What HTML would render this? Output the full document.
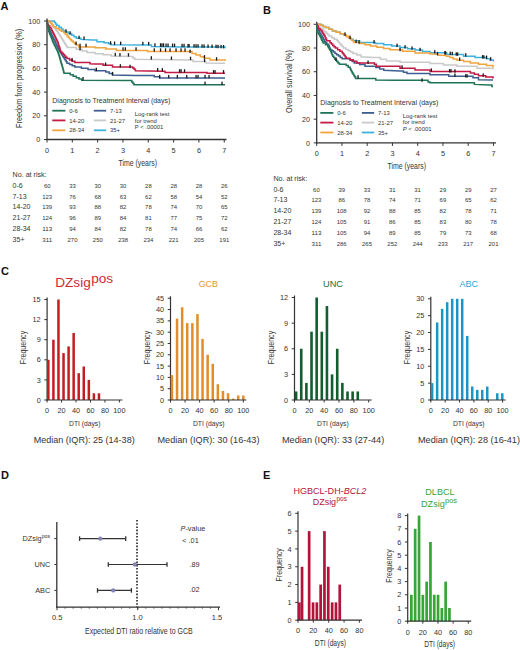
<!DOCTYPE html>
<html><head><meta charset="utf-8"><title>Figure</title>
<style>html,body{margin:0;padding:0;background:#fff;width:520px;height:650px;overflow:hidden;font-family:"Liberation Sans", sans-serif;}svg{display:block;}</style>
</head><body>
<svg width="520" height="650" viewBox="0 0 520 650" font-family='"Liberation Sans", sans-serif'>
<rect width="520" height="650" fill="#fff"/>
<text x="0.5" y="10.4" font-size="11" fill="#111" font-weight="bold">A</text>
<text x="263" y="13.9" font-size="11" fill="#111" font-weight="bold">B</text>
<text x="1" y="274.8" font-size="11" fill="#111" font-weight="bold">C</text>
<text x="1" y="479.2" font-size="11" fill="#111" font-weight="bold">D</text>
<text x="263" y="479" font-size="11" fill="#111" font-weight="bold">E</text>
<line x1="47" y1="18.5" x2="47" y2="140.0" stroke="#333" stroke-width="1.3"/>
<line x1="46.5" y1="139.5" x2="226.5" y2="139.5" stroke="#333" stroke-width="1.3"/>
<line x1="44" y1="139.5" x2="47" y2="139.5" stroke="#333" stroke-width="1"/>
<text x="40.2" y="142.1" font-size="7.2" fill="#333333" text-anchor="end">0</text>
<line x1="44" y1="115.8" x2="47" y2="115.8" stroke="#333" stroke-width="1"/>
<text x="40.2" y="118.39999999999999" font-size="7.2" fill="#333333" text-anchor="end">20</text>
<line x1="44" y1="92.1" x2="47" y2="92.1" stroke="#333" stroke-width="1"/>
<text x="40.2" y="94.69999999999999" font-size="7.2" fill="#333333" text-anchor="end">40</text>
<line x1="44" y1="68.39999999999999" x2="47" y2="68.39999999999999" stroke="#333" stroke-width="1"/>
<text x="40.2" y="70.99999999999999" font-size="7.2" fill="#333333" text-anchor="end">60</text>
<line x1="44" y1="44.69999999999999" x2="47" y2="44.69999999999999" stroke="#333" stroke-width="1"/>
<text x="40.2" y="47.29999999999999" font-size="7.2" fill="#333333" text-anchor="end">80</text>
<line x1="44" y1="21.0" x2="47" y2="21.0" stroke="#333" stroke-width="1"/>
<text x="40.2" y="23.6" font-size="7.2" fill="#333333" text-anchor="end">100</text>
<line x1="47.0" y1="139.5" x2="47.0" y2="142.5" stroke="#333" stroke-width="1"/>
<text x="47.0" y="152.9" font-size="7.3" fill="#333333" text-anchor="middle">0</text>
<line x1="72.32" y1="139.5" x2="72.32" y2="142.5" stroke="#333" stroke-width="1"/>
<text x="72.32" y="152.9" font-size="7.3" fill="#333333" text-anchor="middle">1</text>
<line x1="97.64" y1="139.5" x2="97.64" y2="142.5" stroke="#333" stroke-width="1"/>
<text x="97.64" y="152.9" font-size="7.3" fill="#333333" text-anchor="middle">2</text>
<line x1="122.96000000000001" y1="139.5" x2="122.96000000000001" y2="142.5" stroke="#333" stroke-width="1"/>
<text x="122.96000000000001" y="152.9" font-size="7.3" fill="#333333" text-anchor="middle">3</text>
<line x1="148.28" y1="139.5" x2="148.28" y2="142.5" stroke="#333" stroke-width="1"/>
<text x="148.28" y="152.9" font-size="7.3" fill="#333333" text-anchor="middle">4</text>
<line x1="173.6" y1="139.5" x2="173.6" y2="142.5" stroke="#333" stroke-width="1"/>
<text x="173.6" y="152.9" font-size="7.3" fill="#333333" text-anchor="middle">5</text>
<line x1="198.92000000000002" y1="139.5" x2="198.92000000000002" y2="142.5" stroke="#333" stroke-width="1"/>
<text x="198.92000000000002" y="152.9" font-size="7.3" fill="#333333" text-anchor="middle">6</text>
<line x1="224.24" y1="139.5" x2="224.24" y2="142.5" stroke="#333" stroke-width="1"/>
<text x="224.24" y="152.9" font-size="7.3" fill="#333333" text-anchor="middle">7</text>
<text x="118.5" y="166" font-size="9.5" fill="#333333" textLength="38.5" lengthAdjust="spacingAndGlyphs">Time (years)</text>
<text transform="translate(22.3,78.4) rotate(-90)" x="0" y="0" font-size="9.3" fill="#333333" text-anchor="middle" textLength="99" lengthAdjust="spacingAndGlyphs">Freedom from progression (%)</text>
<line x1="316.7" y1="21.8" x2="316.7" y2="143.4" stroke="#333" stroke-width="1.3"/>
<line x1="316.2" y1="142.9" x2="496" y2="142.9" stroke="#333" stroke-width="1.3"/>
<line x1="313.7" y1="142.9" x2="316.7" y2="142.9" stroke="#333" stroke-width="1"/>
<text x="309.9" y="145.5" font-size="7.2" fill="#333333" text-anchor="end">0</text>
<line x1="313.7" y1="119.18" x2="316.7" y2="119.18" stroke="#333" stroke-width="1"/>
<text x="309.9" y="121.78" font-size="7.2" fill="#333333" text-anchor="end">20</text>
<line x1="313.7" y1="95.46000000000001" x2="316.7" y2="95.46000000000001" stroke="#333" stroke-width="1"/>
<text x="309.9" y="98.06" font-size="7.2" fill="#333333" text-anchor="end">40</text>
<line x1="313.7" y1="71.74" x2="316.7" y2="71.74" stroke="#333" stroke-width="1"/>
<text x="309.9" y="74.33999999999999" font-size="7.2" fill="#333333" text-anchor="end">60</text>
<line x1="313.7" y1="48.019999999999996" x2="316.7" y2="48.019999999999996" stroke="#333" stroke-width="1"/>
<text x="309.9" y="50.62" font-size="7.2" fill="#333333" text-anchor="end">80</text>
<line x1="313.7" y1="24.299999999999983" x2="316.7" y2="24.299999999999983" stroke="#333" stroke-width="1"/>
<text x="309.9" y="26.899999999999984" font-size="7.2" fill="#333333" text-anchor="end">100</text>
<line x1="316.7" y1="142.9" x2="316.7" y2="145.9" stroke="#333" stroke-width="1"/>
<text x="316.7" y="155.9" font-size="7.3" fill="#333333" text-anchor="middle">0</text>
<line x1="341.95" y1="142.9" x2="341.95" y2="145.9" stroke="#333" stroke-width="1"/>
<text x="341.95" y="155.9" font-size="7.3" fill="#333333" text-anchor="middle">1</text>
<line x1="367.2" y1="142.9" x2="367.2" y2="145.9" stroke="#333" stroke-width="1"/>
<text x="367.2" y="155.9" font-size="7.3" fill="#333333" text-anchor="middle">2</text>
<line x1="392.45" y1="142.9" x2="392.45" y2="145.9" stroke="#333" stroke-width="1"/>
<text x="392.45" y="155.9" font-size="7.3" fill="#333333" text-anchor="middle">3</text>
<line x1="417.7" y1="142.9" x2="417.7" y2="145.9" stroke="#333" stroke-width="1"/>
<text x="417.7" y="155.9" font-size="7.3" fill="#333333" text-anchor="middle">4</text>
<line x1="442.95" y1="142.9" x2="442.95" y2="145.9" stroke="#333" stroke-width="1"/>
<text x="442.95" y="155.9" font-size="7.3" fill="#333333" text-anchor="middle">5</text>
<line x1="468.2" y1="142.9" x2="468.2" y2="145.9" stroke="#333" stroke-width="1"/>
<text x="468.2" y="155.9" font-size="7.3" fill="#333333" text-anchor="middle">6</text>
<line x1="493.45" y1="142.9" x2="493.45" y2="145.9" stroke="#333" stroke-width="1"/>
<text x="493.45" y="155.9" font-size="7.3" fill="#333333" text-anchor="middle">7</text>
<text x="387.5" y="169" font-size="9.5" fill="#333333" textLength="38.5" lengthAdjust="spacingAndGlyphs">Time (years)</text>
<text transform="translate(291.8,81.6) rotate(-90)" x="0" y="0" font-size="9.3" fill="#333333" text-anchor="middle" textLength="63" lengthAdjust="spacingAndGlyphs">Overall survival (%)</text>
<polyline points="47.0,21.0 49.0,21.0 49.0,22.1 50.9,22.1 50.9,23.2 51.9,23.2 51.9,24.6 52.8,24.6 52.8,25.9 53.8,25.9 53.8,27.2 54.8,27.2 54.8,28.6 55.7,28.6 55.7,29.9 56.7,29.9 56.7,31.3 57.6,31.3 57.6,32.7 58.5,32.7 58.5,34.1 59.5,34.1 59.5,35.4 60.4,35.4 60.4,36.8 61.3,36.8 61.3,38.2 62.2,38.2 62.2,39.7 63.0,39.7 63.0,41.1 63.9,41.1 63.9,42.5 64.8,42.5 64.8,44.0 65.9,44.0 65.9,45.7 67.0,45.7 67.0,47.4 76.3,47.4 76.3,49.2 82.0,49.2 82.0,50.9 87.0,50.9 87.0,52.5 95.0,52.5 95.0,53.8 103.1,53.8 103.1,54.8 111.2,54.8 111.2,55.9 131.3,56.5 133.0,56.5 133.0,57.9 134.7,57.9 134.7,59.2 191.0,59.9 193.0,59.9 193.0,61.6 204.0,61.6 206.0,61.6 206.0,63.0 225.0,63.3" fill="none" stroke="#c9c9c9" stroke-width="1.5" stroke-linejoin="miter"/>
<polyline points="47.0,21.0 54.4,21.0 54.4,22.3 55.5,22.3 55.5,23.9 56.7,23.9 56.7,25.5 59.0,25.5 59.0,27.2 61.3,27.2 61.3,29.0 63.0,29.0 63.0,30.4 64.8,30.4 64.8,31.9 68.2,31.9 68.2,33.6 71.7,33.6 71.7,35.3 74.0,35.3 74.0,36.8 76.3,36.8 76.3,38.2 80.9,38.2 80.9,39.4 92.4,40.0 97.0,40.0 97.0,41.7 104.0,41.7 104.0,42.8 108.5,42.8 108.5,43.7 111.2,43.7 111.2,44.7 148.8,45.1 151.5,45.1 151.5,46.4 180.0,46.9 225.0,46.9 225.0,48.2" fill="none" stroke="#3cb2dd" stroke-width="1.5" stroke-linejoin="miter"/>
<polyline points="47.0,21.0 49.8,21.0 49.8,22.0 50.9,22.0 50.9,23.6 52.1,23.6 52.1,25.1 53.2,25.1 53.2,26.7 56.1,26.7 56.1,28.4 59.0,28.4 59.0,30.1 61.3,30.1 61.3,31.3 63.6,31.3 63.6,32.5 65.3,32.5 65.3,34.2 67.0,34.2 67.0,35.9 68.2,35.9 68.2,37.2 69.3,37.2 69.3,38.5 70.5,38.5 70.5,39.8 71.7,39.8 71.7,41.1 73.2,41.1 73.2,42.4 74.8,42.4 74.8,43.8 76.3,43.8 76.3,45.1 78.6,45.1 78.6,46.9 90.1,46.9 95.0,46.9 95.0,47.8 105.8,47.8 105.8,49.1 116.5,49.1 116.5,50.5 144.8,50.5 147.5,50.5 147.5,51.5 186.2,51.5 192.0,51.5 192.0,53.5 196.1,53.5 196.1,55.1 200.3,55.1 200.3,56.7 204.4,56.7 204.4,58.3 210.0,58.3 210.0,60.0 225.0,60.0 225.0,61.0" fill="none" stroke="#f1a43c" stroke-width="1.5" stroke-linejoin="miter"/>
<polyline points="47.0,21.0 47.2,21.0 47.2,22.5 47.3,22.5 47.3,24.0 47.5,24.0 47.5,25.5 48.1,25.5 48.1,26.9 48.7,26.9 48.7,28.4 49.3,28.4 49.3,29.8 49.9,29.8 49.9,31.2 50.5,31.2 50.5,32.6 51.1,32.6 51.1,34.1 51.7,34.1 51.7,35.5 52.4,35.5 52.4,36.9 53.1,36.9 53.1,38.3 53.8,38.3 53.8,39.7 54.5,39.7 54.5,41.1 55.2,41.1 55.2,42.5 55.9,42.5 55.9,44.0 56.6,44.0 56.6,45.4 57.3,45.4 57.3,46.8 58.0,46.8 58.0,48.2 58.7,48.2 58.7,49.6 59.4,49.6 59.4,51.0 60.2,51.0 60.2,52.4 61.1,52.4 61.1,53.7 61.9,53.7 61.9,55.1 62.8,55.1 62.8,56.4 63.6,56.4 63.6,57.8 64.5,57.8 64.5,59.1 65.3,59.1 65.3,60.5 66.2,60.5 66.2,61.8 67.0,61.8 67.0,63.2 69.6,63.2 69.6,64.5 72.2,64.5 72.2,65.7 74.8,65.7 74.8,67.0 81.4,67.0 81.4,68.2 88.0,68.2 88.0,69.5 95.0,69.5 95.0,70.7 105.8,70.7 105.8,72.0 109.2,72.0 109.2,73.5 112.5,73.5 112.5,75.1 135.4,75.4 154.2,75.4 154.2,76.7 159.6,76.7 159.6,78.1 225.0,78.1" fill="none" stroke="#3d5f8f" stroke-width="1.5" stroke-linejoin="miter"/>
<polyline points="47.0,21.0 47.2,21.0 47.2,22.7 47.5,22.7 47.5,24.4 48.6,24.4 48.6,25.9 49.8,25.9 49.8,27.5 50.9,27.5 50.9,29.0 51.6,29.0 51.6,30.4 52.3,30.4 52.3,31.8 53.0,31.8 53.0,33.1 53.7,33.1 53.7,34.5 54.4,34.5 54.4,35.9 55.1,35.9 55.1,37.3 55.8,37.3 55.8,38.7 56.4,38.7 56.4,40.0 57.1,40.0 57.1,41.4 57.8,41.4 57.8,42.8 58.2,42.8 58.2,44.1 58.6,44.1 58.6,45.4 59.0,45.4 59.0,46.7 59.5,46.7 59.5,48.1 59.9,48.1 59.9,49.4 60.3,49.4 60.3,50.7 60.7,50.7 60.7,52.0 62.0,52.0 62.0,53.3 63.2,53.3 63.2,54.6 64.5,54.6 64.5,56.0 65.7,56.0 65.7,57.3 67.0,57.3 67.0,58.6 69.6,58.6 69.6,59.9 72.2,59.9 72.2,61.2 74.8,61.2 74.8,62.5 90.0,62.5 90.0,63.8 95.0,63.9 103.1,63.9 103.1,65.3 112.5,65.3 112.5,67.0 132.7,67.0 132.7,68.0 134.1,68.0 134.1,69.3 135.4,69.3 135.4,70.7 163.0,71.3 165.0,71.3 165.0,72.4 205.0,72.4 207.0,72.4 207.0,73.3 225.0,73.3" fill="none" stroke="#c41a45" stroke-width="1.5" stroke-linejoin="miter"/>
<polyline points="47.0,21.0 47.2,21.0 47.2,22.5 47.5,22.5 47.5,23.9 47.7,23.9 47.7,25.4 47.9,25.4 47.9,26.9 48.1,26.9 48.1,28.4 48.4,28.4 48.4,29.8 48.6,29.8 48.6,31.3 49.2,31.3 49.2,32.7 49.8,32.7 49.8,34.2 50.3,34.2 50.3,35.6 50.9,35.6 50.9,37.0 51.5,37.0 51.5,38.5 52.1,38.5 52.1,39.9 52.6,39.9 52.6,41.4 53.2,41.4 53.2,42.8 53.9,42.8 53.9,44.1 54.5,44.1 54.5,45.4 55.2,45.4 55.2,46.7 55.8,46.7 55.8,48.1 56.5,48.1 56.5,49.4 57.1,49.4 57.1,50.7 57.8,50.7 57.8,52.0 58.2,52.0 58.2,53.2 58.6,53.2 58.6,54.5 59.0,54.5 59.0,55.8 59.4,55.8 59.4,57.0 59.8,57.0 59.8,58.4 60.2,58.4 60.2,59.7 60.5,59.7 60.5,61.0 60.9,61.0 60.9,62.4 61.3,62.4 61.3,63.8 61.7,63.8 61.7,65.1 62.1,65.1 62.1,66.5 62.5,66.5 62.5,67.8 62.9,67.8 62.9,69.2 63.2,69.2 63.2,70.5 63.6,70.5 63.6,71.9 64.0,71.9 64.0,73.2 70.2,73.2 70.2,74.8 73.2,74.8 73.2,76.3 76.3,76.3 76.3,77.8 79.0,77.8 79.0,79.0 81.7,79.0 81.7,80.2 130.7,80.5 131.8,80.5 131.8,81.9 132.9,81.9 132.9,83.4 134.0,83.4 134.0,84.8 225.0,84.8" fill="none" stroke="#1f7556" stroke-width="1.5" stroke-linejoin="miter"/>
<polyline points="316.7,24.3 317.9,24.3 317.9,25.6 319.0,25.6 319.0,27.0 321.0,27.0 321.0,28.6 323.0,28.6 323.0,30.3 324.5,30.3 324.5,31.8 326.0,31.8 326.0,33.2 327.5,33.2 327.5,34.6 329.0,34.6 329.0,36.1 331.7,36.1 331.7,37.7 334.3,37.7 334.3,39.2 337.0,39.2 337.0,40.8 338.3,40.8 338.3,42.3 339.6,42.3 339.6,43.7 340.9,43.7 340.9,45.2 342.2,45.2 342.2,46.6 343.5,46.6 343.5,48.1 345.9,48.1 345.9,49.5 348.2,49.5 348.2,50.8 350.5,50.8 350.5,52.1 352.9,52.1 352.9,53.5 356.9,53.5 356.9,55.1 361.0,55.1 361.0,56.8 374.4,57.5 380.4,57.5 380.4,59.2 386.5,59.2 386.5,60.9 400.0,60.9 400.0,62.2 430.0,62.2 430.0,63.6 443.4,63.6 443.4,64.9 456.9,64.9 456.9,66.2 477.1,66.2 477.1,68.3 493.0,68.3 493.0,69.3" fill="none" stroke="#c9c9c9" stroke-width="1.5" stroke-linejoin="miter"/>
<polyline points="316.7,24.3 320.9,24.3 320.9,25.2 323.2,25.2 323.2,26.4 325.5,26.4 325.5,27.5 329.0,27.5 329.0,29.2 332.5,29.2 332.5,31.0 336.3,31.0 336.3,32.3 340.2,32.3 340.2,33.7 344.0,33.7 344.0,35.0 346.3,35.0 346.3,36.5 348.6,36.5 348.6,37.9 350.9,37.9 350.9,39.3 353.2,39.3 353.2,40.8 359.6,40.8 359.6,42.4 375.5,42.4 375.5,43.4 383.7,43.4 383.7,44.7 391.8,44.7 391.8,46.1 400.0,46.1 400.0,47.4 407.5,47.4 407.5,48.8 415.0,48.8 415.0,50.1 422.5,50.1 422.5,51.4 430.0,51.4 430.0,52.8 446.8,52.8 446.8,54.5 463.6,54.5 463.6,56.2 475.1,56.2 475.1,57.5 486.5,57.5 486.5,58.8 489.9,58.8 489.9,60.1 493.3,60.1 493.3,61.5" fill="none" stroke="#3cb2dd" stroke-width="1.5" stroke-linejoin="miter"/>
<polyline points="316.7,24.3 320.9,24.3 320.9,25.2 323.2,25.2 323.2,26.4 325.5,26.4 325.5,27.5 329.0,27.5 329.0,29.2 332.5,29.2 332.5,31.0 336.3,31.0 336.3,32.3 340.2,32.3 340.2,33.7 344.0,33.7 344.0,35.0 346.3,35.0 346.3,36.5 348.6,36.5 348.6,37.9 350.1,37.9 350.1,39.1 351.7,39.1 351.7,40.3 353.2,40.3 353.2,41.5 354.2,41.5 354.2,42.4 359.6,42.4 359.6,43.6 365.0,43.6 365.0,44.8 370.4,44.8 370.4,46.0 376.9,46.0 376.9,47.2 383.5,47.2 383.5,48.5 390.0,48.5 390.0,49.7 402.5,49.7 402.5,51.3 415.0,51.3 415.0,52.9 430.0,52.9 430.0,54.1 438.1,54.1 438.1,55.2 446.2,55.2 446.2,56.2 449.8,56.2 449.8,57.5 453.3,57.5 453.3,58.9 456.9,58.9 456.9,60.2 463.6,60.2 463.6,61.5 470.4,61.5 470.4,62.9 478.4,62.9 478.4,64.2 486.5,64.2 486.5,65.6 493.0,65.6 493.0,67.6" fill="none" stroke="#f1a43c" stroke-width="1.5" stroke-linejoin="miter"/>
<polyline points="316.7,24.3 317.0,24.3 317.0,25.9 317.2,25.9 317.2,27.6 317.5,27.6 317.5,29.2 318.4,29.2 318.4,30.6 319.2,30.6 319.2,32.1 320.0,32.1 320.0,33.5 320.9,33.5 320.9,35.0 321.8,35.0 321.8,36.6 322.6,36.6 322.6,38.1 323.5,38.1 323.5,39.7 324.4,39.7 324.4,41.3 325.5,41.3 325.5,42.6 326.7,42.6 326.7,43.9 327.9,43.9 327.9,45.2 329.0,45.2 329.0,46.5 329.5,46.5 329.5,48.0 330.0,48.0 330.0,49.4 331.7,49.4 331.7,50.8 333.4,50.8 333.4,52.1 335.0,52.1 335.0,53.4 336.7,53.4 336.7,54.8 338.5,54.8 338.5,56.1 340.3,56.1 340.3,57.5 342.1,57.5 342.1,58.8 350.2,58.8 350.2,60.2 352.2,60.2 352.2,61.5 354.2,61.5 354.2,62.9 359.6,62.9 359.6,64.5 365.0,64.5 365.0,66.2 375.8,66.2 375.8,67.6 379.8,67.6 379.8,68.9 383.8,68.9 383.8,70.3 400.0,71.0 403.5,71.0 403.5,72.2 407.0,72.2 407.0,73.4 430.0,73.4 430.0,74.7 448.8,74.7 448.8,76.3 473.0,76.3 473.0,77.7 478.5,77.7 478.5,79.7 493.0,80.1" fill="none" stroke="#3d5f8f" stroke-width="1.5" stroke-linejoin="miter"/>
<polyline points="316.7,24.3 317.3,24.3 317.3,25.8 318.0,25.8 318.0,27.2 318.6,27.2 318.6,28.7 320.1,28.7 320.1,29.9 321.5,29.9 321.5,31.0 322.2,31.0 322.2,32.3 322.9,32.3 322.9,33.5 323.7,33.5 323.7,34.8 324.4,34.8 324.4,36.1 325.2,36.1 325.2,37.7 325.9,37.7 325.9,39.2 326.7,39.2 326.7,40.8 330.0,40.8 330.0,42.7 331.4,42.7 331.4,44.1 332.7,44.1 332.7,45.4 334.0,45.4 334.0,46.8 335.4,46.8 335.4,48.1 337.6,48.1 337.6,49.7 339.9,49.7 339.9,51.2 342.1,51.2 342.1,52.8 343.1,52.8 343.1,54.1 344.1,54.1 344.1,55.5 345.2,55.5 345.2,56.9 346.2,56.9 346.2,58.2 349.8,58.2 349.8,59.8 353.3,59.8 353.3,61.3 356.9,61.3 356.9,62.9 374.4,62.9 374.4,64.2 376.4,64.2 376.4,66.2 400.0,66.2 400.0,68.3 415.0,68.3 415.0,69.9 430.0,69.9 430.0,71.6 470.4,71.6 470.4,73.0 474.4,73.0 474.4,74.3 478.5,74.3 478.5,75.7 485.8,75.7 485.8,77.1 493.0,77.1 493.0,78.4" fill="none" stroke="#c41a45" stroke-width="1.5" stroke-linejoin="miter"/>
<polyline points="316.7,24.3 316.7,24.3 316.7,25.7 316.8,25.7 316.8,27.2 316.8,27.2 316.8,28.6 316.9,28.6 316.9,30.1 316.9,30.1 316.9,31.5 317.9,31.5 317.9,33.0 318.8,33.0 318.8,34.6 319.8,34.6 319.8,36.1 320.5,36.1 320.5,37.5 321.2,37.5 321.2,38.9 321.8,38.9 321.8,40.3 322.5,40.3 322.5,41.7 323.2,41.7 323.2,43.1 325.5,43.1 325.5,44.8 327.8,44.8 327.8,46.5 328.5,46.5 328.5,47.7 329.3,47.7 329.3,48.9 330.0,48.9 330.0,50.1 330.7,50.1 330.7,51.6 331.4,51.6 331.4,53.2 332.0,53.2 332.0,54.7 332.7,54.7 332.7,56.2 333.7,56.2 333.7,57.5 334.7,57.5 334.7,58.9 335.7,58.9 335.7,60.2 336.7,60.2 336.7,61.5 338.0,61.5 338.0,62.9 339.4,62.9 339.4,64.2 346.2,64.2 346.2,65.6 348.2,65.6 348.2,67.2 350.2,67.2 350.2,68.9 350.9,68.9 350.9,70.3 351.5,70.3 351.5,71.6 352.2,71.6 352.2,73.0 353.1,73.0 353.1,74.3 353.9,74.3 353.9,75.7 354.8,75.7 354.8,77.1 355.6,77.1 355.6,78.4 374.4,78.4 375.8,78.4 375.8,80.0 394.0,80.3 428.0,80.3 428.0,81.9 430.0,81.9 430.0,82.8 473.0,82.8 474.4,82.8 474.4,84.4 489.2,85.1 491.9,85.1 491.9,86.4 493.0,86.4" fill="none" stroke="#1f7556" stroke-width="1.5" stroke-linejoin="miter"/>
<rect x="65.4" y="29.3" width="1.3" height="3.4" fill="#1a1a1a"/>
<rect x="69.4" y="31.3" width="1.3" height="3.4" fill="#1a1a1a"/>
<rect x="78.4" y="35.7" width="1.3" height="3.4" fill="#1a1a1a"/>
<rect x="83.4" y="36.4" width="1.3" height="3.4" fill="#1a1a1a"/>
<rect x="109.9" y="41.2" width="1.3" height="3.4" fill="#1a1a1a"/>
<rect x="113.9" y="41.5" width="1.3" height="3.4" fill="#1a1a1a"/>
<rect x="120.0" y="41.6" width="1.3" height="3.4" fill="#1a1a1a"/>
<rect x="142.2" y="41.8" width="1.3" height="3.4" fill="#1a1a1a"/>
<rect x="148.0" y="41.9" width="1.3" height="3.4" fill="#1a1a1a"/>
<rect x="154.3" y="43.3" width="1.3" height="3.4" fill="#1a1a1a"/>
<rect x="159.9" y="43.4" width="1.3" height="3.4" fill="#1a1a1a"/>
<rect x="162.4" y="43.4" width="1.3" height="3.4" fill="#1a1a1a"/>
<rect x="160.4" y="43.4" width="1.3" height="3.4" fill="#1a1a1a"/>
<rect x="162.9" y="43.4" width="1.3" height="3.4" fill="#1a1a1a"/>
<rect x="165.4" y="43.5" width="1.3" height="3.4" fill="#1a1a1a"/>
<rect x="167.4" y="43.5" width="1.3" height="3.4" fill="#1a1a1a"/>
<rect x="171.9" y="43.6" width="1.3" height="3.4" fill="#1a1a1a"/>
<rect x="173.9" y="43.6" width="1.3" height="3.4" fill="#1a1a1a"/>
<rect x="181.4" y="43.8" width="1.3" height="3.4" fill="#1a1a1a"/>
<rect x="183.4" y="43.8" width="1.3" height="3.4" fill="#1a1a1a"/>
<rect x="187.4" y="43.9" width="1.3" height="3.4" fill="#1a1a1a"/>
<rect x="188.4" y="44.0" width="1.3" height="3.4" fill="#1a1a1a"/>
<rect x="193.4" y="44.1" width="1.3" height="3.4" fill="#1a1a1a"/>
<rect x="195.4" y="44.2" width="1.3" height="3.4" fill="#1a1a1a"/>
<rect x="197.4" y="44.2" width="1.3" height="3.4" fill="#1a1a1a"/>
<rect x="201.4" y="44.3" width="1.3" height="3.4" fill="#1a1a1a"/>
<rect x="203.4" y="44.4" width="1.3" height="3.4" fill="#1a1a1a"/>
<rect x="207.4" y="44.5" width="1.3" height="3.4" fill="#1a1a1a"/>
<rect x="211.4" y="44.6" width="1.3" height="3.4" fill="#1a1a1a"/>
<rect x="215.4" y="44.7" width="1.3" height="3.4" fill="#1a1a1a"/>
<rect x="217.4" y="44.8" width="1.3" height="3.4" fill="#1a1a1a"/>
<rect x="220.4" y="44.9" width="1.3" height="3.4" fill="#1a1a1a"/>
<rect x="222.9" y="45.0" width="1.3" height="3.4" fill="#1a1a1a"/>
<rect x="75.4" y="41.6" width="1.3" height="3.4" fill="#1a1a1a"/>
<rect x="79.4" y="43.7" width="1.3" height="3.4" fill="#1a1a1a"/>
<rect x="85.4" y="43.7" width="1.3" height="3.4" fill="#1a1a1a"/>
<rect x="122.4" y="47.3" width="1.3" height="3.4" fill="#1a1a1a"/>
<rect x="124.7" y="47.3" width="1.3" height="3.4" fill="#1a1a1a"/>
<rect x="135.4" y="47.3" width="1.3" height="3.4" fill="#1a1a1a"/>
<rect x="153.6" y="48.3" width="1.3" height="3.4" fill="#1a1a1a"/>
<rect x="159.9" y="48.3" width="1.3" height="3.4" fill="#1a1a1a"/>
<rect x="164.9" y="48.3" width="1.3" height="3.4" fill="#1a1a1a"/>
<rect x="169.4" y="48.3" width="1.3" height="3.4" fill="#1a1a1a"/>
<rect x="175.4" y="48.3" width="1.3" height="3.4" fill="#1a1a1a"/>
<rect x="180.4" y="48.3" width="1.3" height="3.4" fill="#1a1a1a"/>
<rect x="184.4" y="48.3" width="1.3" height="3.4" fill="#1a1a1a"/>
<rect x="189.4" y="49.6" width="1.3" height="3.4" fill="#1a1a1a"/>
<rect x="203.8" y="55.1" width="1.3" height="3.4" fill="#1a1a1a"/>
<rect x="215.9" y="57.2" width="1.3" height="3.4" fill="#1a1a1a"/>
<rect x="79.4" y="47.1" width="1.3" height="3.4" fill="#1a1a1a"/>
<rect x="114.6" y="52.8" width="1.3" height="3.4" fill="#1a1a1a"/>
<rect x="119.3" y="53.0" width="1.3" height="3.4" fill="#1a1a1a"/>
<rect x="127.8" y="53.2" width="1.3" height="3.4" fill="#1a1a1a"/>
<rect x="150.7" y="56.2" width="1.3" height="3.4" fill="#1a1a1a"/>
<rect x="170.8" y="56.5" width="1.3" height="3.4" fill="#1a1a1a"/>
<rect x="189.9" y="56.7" width="1.3" height="3.4" fill="#1a1a1a"/>
<rect x="203.9" y="58.8" width="1.3" height="3.4" fill="#1a1a1a"/>
<rect x="71.4" y="57.9" width="1.3" height="3.4" fill="#1a1a1a"/>
<rect x="104.9" y="62.5" width="1.3" height="3.4" fill="#1a1a1a"/>
<rect x="119.7" y="64.2" width="1.3" height="3.4" fill="#1a1a1a"/>
<rect x="129.4" y="64.7" width="1.3" height="3.4" fill="#1a1a1a"/>
<rect x="157.0" y="68.0" width="1.3" height="3.4" fill="#1a1a1a"/>
<rect x="161.7" y="68.1" width="1.3" height="3.4" fill="#1a1a1a"/>
<rect x="178.9" y="69.2" width="1.3" height="3.4" fill="#1a1a1a"/>
<rect x="180.4" y="69.2" width="1.3" height="3.4" fill="#1a1a1a"/>
<rect x="183.9" y="69.2" width="1.3" height="3.4" fill="#1a1a1a"/>
<rect x="212.9" y="70.1" width="1.3" height="3.4" fill="#1a1a1a"/>
<rect x="214.4" y="70.1" width="1.3" height="3.4" fill="#1a1a1a"/>
<rect x="222.9" y="70.1" width="1.3" height="3.4" fill="#1a1a1a"/>
<rect x="95.7" y="67.7" width="1.3" height="3.4" fill="#1a1a1a"/>
<rect x="111.9" y="71.9" width="1.3" height="3.4" fill="#1a1a1a"/>
<rect x="159.0" y="74.9" width="1.3" height="3.4" fill="#1a1a1a"/>
<rect x="168.1" y="74.9" width="1.3" height="3.4" fill="#1a1a1a"/>
<rect x="176.7" y="74.9" width="1.3" height="3.4" fill="#1a1a1a"/>
<rect x="186.1" y="74.9" width="1.3" height="3.4" fill="#1a1a1a"/>
<rect x="195.4" y="74.9" width="1.3" height="3.4" fill="#1a1a1a"/>
<rect x="197.4" y="74.9" width="1.3" height="3.4" fill="#1a1a1a"/>
<rect x="204.4" y="74.9" width="1.3" height="3.4" fill="#1a1a1a"/>
<rect x="208.4" y="74.9" width="1.3" height="3.4" fill="#1a1a1a"/>
<rect x="82.4" y="77.0" width="1.3" height="3.4" fill="#1a1a1a"/>
<rect x="204.4" y="81.6" width="1.3" height="3.4" fill="#1a1a1a"/>
<rect x="221.4" y="81.6" width="1.3" height="3.4" fill="#1a1a1a"/>
<rect x="344.4" y="32.4" width="1.3" height="3.4" fill="#1a1a1a"/>
<rect x="349.4" y="35.6" width="1.3" height="3.4" fill="#1a1a1a"/>
<rect x="373.4" y="40.1" width="1.3" height="3.4" fill="#1a1a1a"/>
<rect x="396.4" y="43.7" width="1.3" height="3.4" fill="#1a1a1a"/>
<rect x="404.4" y="45.1" width="1.3" height="3.4" fill="#1a1a1a"/>
<rect x="411.4" y="46.4" width="1.3" height="3.4" fill="#1a1a1a"/>
<rect x="419.4" y="47.8" width="1.3" height="3.4" fill="#1a1a1a"/>
<rect x="434.1" y="50.1" width="1.3" height="3.4" fill="#1a1a1a"/>
<rect x="444.2" y="51.1" width="1.3" height="3.4" fill="#1a1a1a"/>
<rect x="444.9" y="51.2" width="1.3" height="3.4" fill="#1a1a1a"/>
<rect x="449.6" y="51.6" width="1.3" height="3.4" fill="#1a1a1a"/>
<rect x="451.6" y="51.8" width="1.3" height="3.4" fill="#1a1a1a"/>
<rect x="455.6" y="52.3" width="1.3" height="3.4" fill="#1a1a1a"/>
<rect x="457.0" y="52.4" width="1.3" height="3.4" fill="#1a1a1a"/>
<rect x="465.1" y="53.2" width="1.3" height="3.4" fill="#1a1a1a"/>
<rect x="481.9" y="55.1" width="1.3" height="3.4" fill="#1a1a1a"/>
<rect x="483.2" y="55.3" width="1.3" height="3.4" fill="#1a1a1a"/>
<rect x="485.9" y="55.6" width="1.3" height="3.4" fill="#1a1a1a"/>
<rect x="490.0" y="57.2" width="1.3" height="3.4" fill="#1a1a1a"/>
<rect x="355.4" y="39.6" width="1.3" height="3.4" fill="#1a1a1a"/>
<rect x="358.4" y="40.3" width="1.3" height="3.4" fill="#1a1a1a"/>
<rect x="399.4" y="47.8" width="1.3" height="3.4" fill="#1a1a1a"/>
<rect x="436.8" y="51.9" width="1.3" height="3.4" fill="#1a1a1a"/>
<rect x="459.0" y="57.5" width="1.3" height="3.4" fill="#1a1a1a"/>
<rect x="367.4" y="60.5" width="1.3" height="3.4" fill="#1a1a1a"/>
<rect x="401.4" y="65.3" width="1.3" height="3.4" fill="#1a1a1a"/>
<rect x="430.7" y="68.4" width="1.3" height="3.4" fill="#1a1a1a"/>
<rect x="448.9" y="69.1" width="1.3" height="3.4" fill="#1a1a1a"/>
<rect x="450.3" y="69.1" width="1.3" height="3.4" fill="#1a1a1a"/>
<rect x="454.3" y="69.3" width="1.3" height="3.4" fill="#1a1a1a"/>
<rect x="482.6" y="73.4" width="1.3" height="3.4" fill="#1a1a1a"/>
<rect x="454.3" y="73.5" width="1.3" height="3.4" fill="#1a1a1a"/>
<rect x="465.1" y="74.1" width="1.3" height="3.4" fill="#1a1a1a"/>
<rect x="466.4" y="74.2" width="1.3" height="3.4" fill="#1a1a1a"/>
<rect x="335.4" y="57.4" width="1.3" height="3.4" fill="#1a1a1a"/>
<rect x="357.4" y="75.2" width="1.3" height="3.4" fill="#1a1a1a"/>
<rect x="421.4" y="78.4" width="1.3" height="3.4" fill="#1a1a1a"/>
<text x="52.3" y="103" font-size="6.8" fill="#333333" textLength="118" lengthAdjust="spacingAndGlyphs">Diagnosis to Treatment Interval (days)</text>
<line x1="52.3" y1="110.7" x2="65.39999999999999" y2="110.7" stroke="#1f7556" stroke-width="1.8"/>
<text x="69.19999999999999" y="112.8" font-size="5.9" fill="#333333">0-6</text>
<line x1="93.8" y1="110.7" x2="106.19999999999999" y2="110.7" stroke="#3d5f8f" stroke-width="1.8"/>
<text x="110.0" y="112.8" font-size="5.9" fill="#333333">7-13</text>
<line x1="52.3" y1="120.4" x2="65.39999999999999" y2="120.4" stroke="#c41a45" stroke-width="1.8"/>
<text x="69.19999999999999" y="122.5" font-size="5.9" fill="#333333">14-20</text>
<line x1="93.8" y1="120.4" x2="106.19999999999999" y2="120.4" stroke="#c9c9c9" stroke-width="1.8"/>
<text x="110.0" y="122.5" font-size="5.9" fill="#333333">21-27</text>
<line x1="52.3" y1="130.3" x2="65.39999999999999" y2="130.3" stroke="#f1a43c" stroke-width="1.8"/>
<text x="69.19999999999999" y="132.4" font-size="5.9" fill="#333333">28-34</text>
<line x1="93.8" y1="130.3" x2="106.19999999999999" y2="130.3" stroke="#3cb2dd" stroke-width="1.8"/>
<text x="110.0" y="132.4" font-size="5.9" fill="#333333">35+</text>
<text x="134.8" y="115.7" font-size="5.9" fill="#333333" textLength="34.5" lengthAdjust="spacingAndGlyphs">Log-rank test</text>
<text x="134.8" y="122.5" font-size="5.9" fill="#333333">for trend</text>
<text x="134.8" y="129.2" font-size="5.9" fill="#333333">P &lt; .00001</text>
<text x="320.3" y="104.5" font-size="6.8" fill="#333333" textLength="118" lengthAdjust="spacingAndGlyphs">Diagnosis to Treatment Interval (days)</text>
<line x1="320.3" y1="112.9" x2="333.40000000000003" y2="112.9" stroke="#1f7556" stroke-width="1.8"/>
<text x="337.2" y="115.0" font-size="5.9" fill="#333333">0-6</text>
<line x1="361.8" y1="112.9" x2="374.2" y2="112.9" stroke="#3d5f8f" stroke-width="1.8"/>
<text x="378.0" y="115.0" font-size="5.9" fill="#333333">7-13</text>
<line x1="320.3" y1="122.6" x2="333.40000000000003" y2="122.6" stroke="#c41a45" stroke-width="1.8"/>
<text x="337.2" y="124.69999999999999" font-size="5.9" fill="#333333">14-20</text>
<line x1="361.8" y1="122.6" x2="374.2" y2="122.6" stroke="#c9c9c9" stroke-width="1.8"/>
<text x="378.0" y="124.69999999999999" font-size="5.9" fill="#333333">21-27</text>
<line x1="320.3" y1="132.5" x2="333.40000000000003" y2="132.5" stroke="#f1a43c" stroke-width="1.8"/>
<text x="337.2" y="134.6" font-size="5.9" fill="#333333">28-34</text>
<line x1="361.8" y1="132.5" x2="374.2" y2="132.5" stroke="#3cb2dd" stroke-width="1.8"/>
<text x="378.0" y="134.6" font-size="5.9" fill="#333333">35+</text>
<text x="402.8" y="117.7" font-size="5.9" fill="#333333" textLength="34.5" lengthAdjust="spacingAndGlyphs">Log-rank test</text>
<text x="402.8" y="124.3" font-size="5.9" fill="#333333">for trend</text>
<text x="402.8" y="131.0" font-size="5.9" fill="#333333"><tspan font-style="italic">P</tspan> &lt; .00001</text>
<text x="12.6" y="177.2" font-size="7.1" fill="#333333" textLength="34" lengthAdjust="spacingAndGlyphs">No. at risk:</text>
<text x="12.6" y="187.8" font-size="7" fill="#333333">0-6</text>
<text x="47.2" y="187.8" font-size="6.1" fill="#333333" text-anchor="middle" textLength="6.6" lengthAdjust="spacingAndGlyphs">60</text>
<text x="72.5" y="187.8" font-size="6.1" fill="#333333" text-anchor="middle" textLength="6.6" lengthAdjust="spacingAndGlyphs">33</text>
<text x="97.80000000000001" y="187.8" font-size="6.1" fill="#333333" text-anchor="middle" textLength="6.6" lengthAdjust="spacingAndGlyphs">30</text>
<text x="123.10000000000001" y="187.8" font-size="6.1" fill="#333333" text-anchor="middle" textLength="6.6" lengthAdjust="spacingAndGlyphs">30</text>
<text x="148.4" y="187.8" font-size="6.1" fill="#333333" text-anchor="middle" textLength="6.6" lengthAdjust="spacingAndGlyphs">28</text>
<text x="173.7" y="187.8" font-size="6.1" fill="#333333" text-anchor="middle" textLength="6.6" lengthAdjust="spacingAndGlyphs">28</text>
<text x="199.0" y="187.8" font-size="6.1" fill="#333333" text-anchor="middle" textLength="6.6" lengthAdjust="spacingAndGlyphs">28</text>
<text x="224.3" y="187.8" font-size="6.1" fill="#333333" text-anchor="middle" textLength="6.6" lengthAdjust="spacingAndGlyphs">26</text>
<text x="12.6" y="198.6" font-size="7" fill="#333333">7-13</text>
<text x="47.2" y="198.6" font-size="6.1" fill="#333333" text-anchor="middle" textLength="9.9" lengthAdjust="spacingAndGlyphs">123</text>
<text x="72.5" y="198.6" font-size="6.1" fill="#333333" text-anchor="middle" textLength="6.6" lengthAdjust="spacingAndGlyphs">76</text>
<text x="97.80000000000001" y="198.6" font-size="6.1" fill="#333333" text-anchor="middle" textLength="6.6" lengthAdjust="spacingAndGlyphs">68</text>
<text x="123.10000000000001" y="198.6" font-size="6.1" fill="#333333" text-anchor="middle" textLength="6.6" lengthAdjust="spacingAndGlyphs">63</text>
<text x="148.4" y="198.6" font-size="6.1" fill="#333333" text-anchor="middle" textLength="6.6" lengthAdjust="spacingAndGlyphs">62</text>
<text x="173.7" y="198.6" font-size="6.1" fill="#333333" text-anchor="middle" textLength="6.6" lengthAdjust="spacingAndGlyphs">58</text>
<text x="199.0" y="198.6" font-size="6.1" fill="#333333" text-anchor="middle" textLength="6.6" lengthAdjust="spacingAndGlyphs">54</text>
<text x="224.3" y="198.6" font-size="6.1" fill="#333333" text-anchor="middle" textLength="6.6" lengthAdjust="spacingAndGlyphs">52</text>
<text x="12.6" y="209.4" font-size="7" fill="#333333">14-20</text>
<text x="47.2" y="209.4" font-size="6.1" fill="#333333" text-anchor="middle" textLength="9.9" lengthAdjust="spacingAndGlyphs">139</text>
<text x="72.5" y="209.4" font-size="6.1" fill="#333333" text-anchor="middle" textLength="6.6" lengthAdjust="spacingAndGlyphs">93</text>
<text x="97.80000000000001" y="209.4" font-size="6.1" fill="#333333" text-anchor="middle" textLength="6.6" lengthAdjust="spacingAndGlyphs">88</text>
<text x="123.10000000000001" y="209.4" font-size="6.1" fill="#333333" text-anchor="middle" textLength="6.6" lengthAdjust="spacingAndGlyphs">82</text>
<text x="148.4" y="209.4" font-size="6.1" fill="#333333" text-anchor="middle" textLength="6.6" lengthAdjust="spacingAndGlyphs">78</text>
<text x="173.7" y="209.4" font-size="6.1" fill="#333333" text-anchor="middle" textLength="6.6" lengthAdjust="spacingAndGlyphs">74</text>
<text x="199.0" y="209.4" font-size="6.1" fill="#333333" text-anchor="middle" textLength="6.6" lengthAdjust="spacingAndGlyphs">70</text>
<text x="224.3" y="209.4" font-size="6.1" fill="#333333" text-anchor="middle" textLength="6.6" lengthAdjust="spacingAndGlyphs">65</text>
<text x="12.6" y="220.3" font-size="7" fill="#333333">21-27</text>
<text x="47.2" y="220.3" font-size="6.1" fill="#333333" text-anchor="middle" textLength="9.9" lengthAdjust="spacingAndGlyphs">124</text>
<text x="72.5" y="220.3" font-size="6.1" fill="#333333" text-anchor="middle" textLength="6.6" lengthAdjust="spacingAndGlyphs">96</text>
<text x="97.80000000000001" y="220.3" font-size="6.1" fill="#333333" text-anchor="middle" textLength="6.6" lengthAdjust="spacingAndGlyphs">89</text>
<text x="123.10000000000001" y="220.3" font-size="6.1" fill="#333333" text-anchor="middle" textLength="6.6" lengthAdjust="spacingAndGlyphs">84</text>
<text x="148.4" y="220.3" font-size="6.1" fill="#333333" text-anchor="middle" textLength="6.6" lengthAdjust="spacingAndGlyphs">81</text>
<text x="173.7" y="220.3" font-size="6.1" fill="#333333" text-anchor="middle" textLength="6.6" lengthAdjust="spacingAndGlyphs">77</text>
<text x="199.0" y="220.3" font-size="6.1" fill="#333333" text-anchor="middle" textLength="6.6" lengthAdjust="spacingAndGlyphs">75</text>
<text x="224.3" y="220.3" font-size="6.1" fill="#333333" text-anchor="middle" textLength="6.6" lengthAdjust="spacingAndGlyphs">72</text>
<text x="12.6" y="231.1" font-size="7" fill="#333333">28-34</text>
<text x="47.2" y="231.1" font-size="6.1" fill="#333333" text-anchor="middle" textLength="9.9" lengthAdjust="spacingAndGlyphs">113</text>
<text x="72.5" y="231.1" font-size="6.1" fill="#333333" text-anchor="middle" textLength="6.6" lengthAdjust="spacingAndGlyphs">94</text>
<text x="97.80000000000001" y="231.1" font-size="6.1" fill="#333333" text-anchor="middle" textLength="6.6" lengthAdjust="spacingAndGlyphs">84</text>
<text x="123.10000000000001" y="231.1" font-size="6.1" fill="#333333" text-anchor="middle" textLength="6.6" lengthAdjust="spacingAndGlyphs">82</text>
<text x="148.4" y="231.1" font-size="6.1" fill="#333333" text-anchor="middle" textLength="6.6" lengthAdjust="spacingAndGlyphs">78</text>
<text x="173.7" y="231.1" font-size="6.1" fill="#333333" text-anchor="middle" textLength="6.6" lengthAdjust="spacingAndGlyphs">74</text>
<text x="199.0" y="231.1" font-size="6.1" fill="#333333" text-anchor="middle" textLength="6.6" lengthAdjust="spacingAndGlyphs">66</text>
<text x="224.3" y="231.1" font-size="6.1" fill="#333333" text-anchor="middle" textLength="6.6" lengthAdjust="spacingAndGlyphs">62</text>
<text x="12.6" y="241.9" font-size="7" fill="#333333">35+</text>
<text x="47.2" y="241.9" font-size="6.1" fill="#333333" text-anchor="middle" textLength="9.9" lengthAdjust="spacingAndGlyphs">311</text>
<text x="72.5" y="241.9" font-size="6.1" fill="#333333" text-anchor="middle" textLength="9.9" lengthAdjust="spacingAndGlyphs">270</text>
<text x="97.80000000000001" y="241.9" font-size="6.1" fill="#333333" text-anchor="middle" textLength="9.9" lengthAdjust="spacingAndGlyphs">250</text>
<text x="123.10000000000001" y="241.9" font-size="6.1" fill="#333333" text-anchor="middle" textLength="9.9" lengthAdjust="spacingAndGlyphs">238</text>
<text x="148.4" y="241.9" font-size="6.1" fill="#333333" text-anchor="middle" textLength="9.9" lengthAdjust="spacingAndGlyphs">234</text>
<text x="173.7" y="241.9" font-size="6.1" fill="#333333" text-anchor="middle" textLength="9.9" lengthAdjust="spacingAndGlyphs">221</text>
<text x="199.0" y="241.9" font-size="6.1" fill="#333333" text-anchor="middle" textLength="9.9" lengthAdjust="spacingAndGlyphs">205</text>
<text x="224.3" y="241.9" font-size="6.1" fill="#333333" text-anchor="middle" textLength="9.9" lengthAdjust="spacingAndGlyphs">191</text>
<text x="273.4" y="181" font-size="7.1" fill="#333333" textLength="34" lengthAdjust="spacingAndGlyphs">No. at risk:</text>
<text x="273.4" y="191.8" font-size="7" fill="#333333">0-6</text>
<text x="316.4" y="191.8" font-size="6.1" fill="#333333" text-anchor="middle" textLength="6.6" lengthAdjust="spacingAndGlyphs">60</text>
<text x="341.7" y="191.8" font-size="6.1" fill="#333333" text-anchor="middle" textLength="6.6" lengthAdjust="spacingAndGlyphs">39</text>
<text x="367.0" y="191.8" font-size="6.1" fill="#333333" text-anchor="middle" textLength="6.6" lengthAdjust="spacingAndGlyphs">33</text>
<text x="392.29999999999995" y="191.8" font-size="6.1" fill="#333333" text-anchor="middle" textLength="6.6" lengthAdjust="spacingAndGlyphs">31</text>
<text x="417.59999999999997" y="191.8" font-size="6.1" fill="#333333" text-anchor="middle" textLength="6.6" lengthAdjust="spacingAndGlyphs">31</text>
<text x="442.9" y="191.8" font-size="6.1" fill="#333333" text-anchor="middle" textLength="6.6" lengthAdjust="spacingAndGlyphs">29</text>
<text x="468.2" y="191.8" font-size="6.1" fill="#333333" text-anchor="middle" textLength="6.6" lengthAdjust="spacingAndGlyphs">29</text>
<text x="493.5" y="191.8" font-size="6.1" fill="#333333" text-anchor="middle" textLength="6.6" lengthAdjust="spacingAndGlyphs">27</text>
<text x="273.4" y="202.2" font-size="7" fill="#333333">7-13</text>
<text x="316.4" y="202.2" font-size="6.1" fill="#333333" text-anchor="middle" textLength="9.9" lengthAdjust="spacingAndGlyphs">123</text>
<text x="341.7" y="202.2" font-size="6.1" fill="#333333" text-anchor="middle" textLength="6.6" lengthAdjust="spacingAndGlyphs">86</text>
<text x="367.0" y="202.2" font-size="6.1" fill="#333333" text-anchor="middle" textLength="6.6" lengthAdjust="spacingAndGlyphs">78</text>
<text x="392.29999999999995" y="202.2" font-size="6.1" fill="#333333" text-anchor="middle" textLength="6.6" lengthAdjust="spacingAndGlyphs">74</text>
<text x="417.59999999999997" y="202.2" font-size="6.1" fill="#333333" text-anchor="middle" textLength="6.6" lengthAdjust="spacingAndGlyphs">71</text>
<text x="442.9" y="202.2" font-size="6.1" fill="#333333" text-anchor="middle" textLength="6.6" lengthAdjust="spacingAndGlyphs">69</text>
<text x="468.2" y="202.2" font-size="6.1" fill="#333333" text-anchor="middle" textLength="6.6" lengthAdjust="spacingAndGlyphs">65</text>
<text x="493.5" y="202.2" font-size="6.1" fill="#333333" text-anchor="middle" textLength="6.6" lengthAdjust="spacingAndGlyphs">62</text>
<text x="273.4" y="213.0" font-size="7" fill="#333333">14-20</text>
<text x="316.4" y="213.0" font-size="6.1" fill="#333333" text-anchor="middle" textLength="9.9" lengthAdjust="spacingAndGlyphs">139</text>
<text x="341.7" y="213.0" font-size="6.1" fill="#333333" text-anchor="middle" textLength="9.9" lengthAdjust="spacingAndGlyphs">108</text>
<text x="367.0" y="213.0" font-size="6.1" fill="#333333" text-anchor="middle" textLength="6.6" lengthAdjust="spacingAndGlyphs">92</text>
<text x="392.29999999999995" y="213.0" font-size="6.1" fill="#333333" text-anchor="middle" textLength="6.6" lengthAdjust="spacingAndGlyphs">88</text>
<text x="417.59999999999997" y="213.0" font-size="6.1" fill="#333333" text-anchor="middle" textLength="6.6" lengthAdjust="spacingAndGlyphs">85</text>
<text x="442.9" y="213.0" font-size="6.1" fill="#333333" text-anchor="middle" textLength="6.6" lengthAdjust="spacingAndGlyphs">82</text>
<text x="468.2" y="213.0" font-size="6.1" fill="#333333" text-anchor="middle" textLength="6.6" lengthAdjust="spacingAndGlyphs">78</text>
<text x="493.5" y="213.0" font-size="6.1" fill="#333333" text-anchor="middle" textLength="6.6" lengthAdjust="spacingAndGlyphs">71</text>
<text x="273.4" y="223.9" font-size="7" fill="#333333">21-27</text>
<text x="316.4" y="223.9" font-size="6.1" fill="#333333" text-anchor="middle" textLength="9.9" lengthAdjust="spacingAndGlyphs">124</text>
<text x="341.7" y="223.9" font-size="6.1" fill="#333333" text-anchor="middle" textLength="9.9" lengthAdjust="spacingAndGlyphs">105</text>
<text x="367.0" y="223.9" font-size="6.1" fill="#333333" text-anchor="middle" textLength="6.6" lengthAdjust="spacingAndGlyphs">91</text>
<text x="392.29999999999995" y="223.9" font-size="6.1" fill="#333333" text-anchor="middle" textLength="6.6" lengthAdjust="spacingAndGlyphs">86</text>
<text x="417.59999999999997" y="223.9" font-size="6.1" fill="#333333" text-anchor="middle" textLength="6.6" lengthAdjust="spacingAndGlyphs">85</text>
<text x="442.9" y="223.9" font-size="6.1" fill="#333333" text-anchor="middle" textLength="6.6" lengthAdjust="spacingAndGlyphs">83</text>
<text x="468.2" y="223.9" font-size="6.1" fill="#333333" text-anchor="middle" textLength="6.6" lengthAdjust="spacingAndGlyphs">80</text>
<text x="493.5" y="223.9" font-size="6.1" fill="#333333" text-anchor="middle" textLength="6.6" lengthAdjust="spacingAndGlyphs">78</text>
<text x="273.4" y="234.8" font-size="7" fill="#333333">28-34</text>
<text x="316.4" y="234.8" font-size="6.1" fill="#333333" text-anchor="middle" textLength="9.9" lengthAdjust="spacingAndGlyphs">113</text>
<text x="341.7" y="234.8" font-size="6.1" fill="#333333" text-anchor="middle" textLength="9.9" lengthAdjust="spacingAndGlyphs">105</text>
<text x="367.0" y="234.8" font-size="6.1" fill="#333333" text-anchor="middle" textLength="6.6" lengthAdjust="spacingAndGlyphs">94</text>
<text x="392.29999999999995" y="234.8" font-size="6.1" fill="#333333" text-anchor="middle" textLength="6.6" lengthAdjust="spacingAndGlyphs">89</text>
<text x="417.59999999999997" y="234.8" font-size="6.1" fill="#333333" text-anchor="middle" textLength="6.6" lengthAdjust="spacingAndGlyphs">85</text>
<text x="442.9" y="234.8" font-size="6.1" fill="#333333" text-anchor="middle" textLength="6.6" lengthAdjust="spacingAndGlyphs">79</text>
<text x="468.2" y="234.8" font-size="6.1" fill="#333333" text-anchor="middle" textLength="6.6" lengthAdjust="spacingAndGlyphs">73</text>
<text x="493.5" y="234.8" font-size="6.1" fill="#333333" text-anchor="middle" textLength="6.6" lengthAdjust="spacingAndGlyphs">68</text>
<text x="273.4" y="245.6" font-size="7" fill="#333333">35+</text>
<text x="316.4" y="245.6" font-size="6.1" fill="#333333" text-anchor="middle" textLength="9.9" lengthAdjust="spacingAndGlyphs">311</text>
<text x="341.7" y="245.6" font-size="6.1" fill="#333333" text-anchor="middle" textLength="9.9" lengthAdjust="spacingAndGlyphs">286</text>
<text x="367.0" y="245.6" font-size="6.1" fill="#333333" text-anchor="middle" textLength="9.9" lengthAdjust="spacingAndGlyphs">265</text>
<text x="392.29999999999995" y="245.6" font-size="6.1" fill="#333333" text-anchor="middle" textLength="9.9" lengthAdjust="spacingAndGlyphs">252</text>
<text x="417.59999999999997" y="245.6" font-size="6.1" fill="#333333" text-anchor="middle" textLength="9.9" lengthAdjust="spacingAndGlyphs">244</text>
<text x="442.9" y="245.6" font-size="6.1" fill="#333333" text-anchor="middle" textLength="9.9" lengthAdjust="spacingAndGlyphs">233</text>
<text x="468.2" y="245.6" font-size="6.1" fill="#333333" text-anchor="middle" textLength="9.9" lengthAdjust="spacingAndGlyphs">217</text>
<text x="493.5" y="245.6" font-size="6.1" fill="#333333" text-anchor="middle" textLength="9.9" lengthAdjust="spacingAndGlyphs">201</text>
<line x1="47.1" y1="297.5" x2="47.1" y2="400.5" stroke="#333" stroke-width="1.2"/>
<rect x="47.10" y="359.80" width="2.5" height="40.20" fill="#c41c20"/>
<rect x="52.16" y="339.70" width="2.5" height="60.30" fill="#c41c20"/>
<rect x="57.22" y="299.50" width="2.5" height="100.50" fill="#c41c20"/>
<rect x="62.28" y="353.10" width="2.5" height="46.90" fill="#c41c20"/>
<rect x="67.34" y="346.40" width="2.5" height="53.60" fill="#c41c20"/>
<rect x="72.40" y="333.00" width="2.5" height="67.00" fill="#c41c20"/>
<rect x="77.46" y="373.20" width="2.5" height="26.80" fill="#c41c20"/>
<rect x="82.52" y="366.50" width="2.5" height="33.50" fill="#c41c20"/>
<rect x="87.58" y="379.90" width="2.5" height="20.10" fill="#c41c20"/>
<rect x="92.64" y="393.30" width="2.5" height="6.70" fill="#c41c20"/>
<rect x="97.70" y="393.30" width="2.5" height="6.70" fill="#c41c20"/>
<line x1="46.5" y1="400" x2="122.4" y2="400" stroke="#333" stroke-width="1.2"/>
<line x1="44.300000000000004" y1="400.0" x2="47.1" y2="400.0" stroke="#333" stroke-width="1"/>
<text x="40.7" y="402.6" font-size="7.3" fill="#333333" text-anchor="end">0</text>
<line x1="44.300000000000004" y1="379.9" x2="47.1" y2="379.9" stroke="#333" stroke-width="1"/>
<text x="40.7" y="382.5" font-size="7.3" fill="#333333" text-anchor="end">3</text>
<line x1="44.300000000000004" y1="359.8" x2="47.1" y2="359.8" stroke="#333" stroke-width="1"/>
<text x="40.7" y="362.40000000000003" font-size="7.3" fill="#333333" text-anchor="end">6</text>
<line x1="44.300000000000004" y1="339.7" x2="47.1" y2="339.7" stroke="#333" stroke-width="1"/>
<text x="40.7" y="342.3" font-size="7.3" fill="#333333" text-anchor="end">9</text>
<line x1="44.300000000000004" y1="319.6" x2="47.1" y2="319.6" stroke="#333" stroke-width="1"/>
<text x="40.7" y="322.20000000000005" font-size="7.3" fill="#333333" text-anchor="end">12</text>
<line x1="44.300000000000004" y1="299.5" x2="47.1" y2="299.5" stroke="#333" stroke-width="1"/>
<text x="40.7" y="302.1" font-size="7.3" fill="#333333" text-anchor="end">15</text>
<line x1="47.1" y1="400" x2="47.1" y2="402.5" stroke="#333" stroke-width="1"/>
<text x="47.1" y="413.2" font-size="7.3" fill="#333333" text-anchor="middle">0</text>
<line x1="61.56" y1="400" x2="61.56" y2="402.5" stroke="#333" stroke-width="1"/>
<text x="61.56" y="413.2" font-size="7.3" fill="#333333" text-anchor="middle">20</text>
<line x1="76.02" y1="400" x2="76.02" y2="402.5" stroke="#333" stroke-width="1"/>
<text x="76.02" y="413.2" font-size="7.3" fill="#333333" text-anchor="middle">40</text>
<line x1="90.47999999999999" y1="400" x2="90.47999999999999" y2="402.5" stroke="#333" stroke-width="1"/>
<text x="90.47999999999999" y="413.2" font-size="7.3" fill="#333333" text-anchor="middle">60</text>
<line x1="104.94" y1="400" x2="104.94" y2="402.5" stroke="#333" stroke-width="1"/>
<text x="104.94" y="413.2" font-size="7.3" fill="#333333" text-anchor="middle">80</text>
<line x1="119.4" y1="400" x2="119.4" y2="402.5" stroke="#333" stroke-width="1"/>
<text x="119.4" y="413.2" font-size="7.3" fill="#333333" text-anchor="middle">100</text>
<text transform="translate(26,347.5) rotate(-90)" font-size="8.3" fill="#333333" text-anchor="middle" textLength="33.3" lengthAdjust="spacingAndGlyphs">Frequency</text>
<text x="69.1" y="425.6" font-size="7.9" fill="#333333" textLength="31.3" lengthAdjust="spacingAndGlyphs">DTI (days)</text>
<line x1="170.5" y1="296.25" x2="170.5" y2="400.5" stroke="#333" stroke-width="1.2"/>
<rect x="170.70" y="375.13" width="2.5" height="24.87" fill="#e38c2a"/>
<rect x="175.80" y="318.60" width="2.5" height="81.40" fill="#e38c2a"/>
<rect x="180.90" y="307.29" width="2.5" height="92.71" fill="#e38c2a"/>
<rect x="186.00" y="323.12" width="2.5" height="76.88" fill="#e38c2a"/>
<rect x="191.10" y="323.12" width="2.5" height="76.88" fill="#e38c2a"/>
<rect x="196.20" y="314.08" width="2.5" height="85.92" fill="#e38c2a"/>
<rect x="201.30" y="338.95" width="2.5" height="61.05" fill="#e38c2a"/>
<rect x="206.40" y="354.78" width="2.5" height="45.22" fill="#e38c2a"/>
<rect x="211.50" y="363.82" width="2.5" height="36.18" fill="#e38c2a"/>
<rect x="216.60" y="384.17" width="2.5" height="15.83" fill="#e38c2a"/>
<rect x="221.70" y="390.96" width="2.5" height="9.04" fill="#e38c2a"/>
<rect x="226.80" y="393.22" width="2.5" height="6.78" fill="#e38c2a"/>
<rect x="231.90" y="398.64" width="2.5" height="1.36" fill="#e38c2a"/>
<rect x="237.00" y="395.48" width="2.5" height="4.52" fill="#e38c2a"/>
<rect x="242.10" y="395.48" width="2.5" height="4.52" fill="#e38c2a"/>
<line x1="169.9" y1="400" x2="246.3" y2="400" stroke="#333" stroke-width="1.2"/>
<line x1="167.7" y1="400.0" x2="170.5" y2="400.0" stroke="#333" stroke-width="1"/>
<text x="164.1" y="402.6" font-size="7.3" fill="#333333" text-anchor="end">0</text>
<line x1="167.7" y1="388.69444444444446" x2="170.5" y2="388.69444444444446" stroke="#333" stroke-width="1"/>
<text x="164.1" y="391.2944444444445" font-size="7.3" fill="#333333" text-anchor="end">5</text>
<line x1="167.7" y1="377.3888888888889" x2="170.5" y2="377.3888888888889" stroke="#333" stroke-width="1"/>
<text x="164.1" y="379.98888888888894" font-size="7.3" fill="#333333" text-anchor="end">10</text>
<line x1="167.7" y1="366.0833333333333" x2="170.5" y2="366.0833333333333" stroke="#333" stroke-width="1"/>
<text x="164.1" y="368.68333333333334" font-size="7.3" fill="#333333" text-anchor="end">15</text>
<line x1="167.7" y1="354.77777777777777" x2="170.5" y2="354.77777777777777" stroke="#333" stroke-width="1"/>
<text x="164.1" y="357.3777777777778" font-size="7.3" fill="#333333" text-anchor="end">20</text>
<line x1="167.7" y1="343.47222222222223" x2="170.5" y2="343.47222222222223" stroke="#333" stroke-width="1"/>
<text x="164.1" y="346.07222222222225" font-size="7.3" fill="#333333" text-anchor="end">25</text>
<line x1="167.7" y1="332.1666666666667" x2="170.5" y2="332.1666666666667" stroke="#333" stroke-width="1"/>
<text x="164.1" y="334.7666666666667" font-size="7.3" fill="#333333" text-anchor="end">30</text>
<line x1="167.7" y1="320.8611111111111" x2="170.5" y2="320.8611111111111" stroke="#333" stroke-width="1"/>
<text x="164.1" y="323.4611111111111" font-size="7.3" fill="#333333" text-anchor="end">35</text>
<line x1="167.7" y1="309.55555555555554" x2="170.5" y2="309.55555555555554" stroke="#333" stroke-width="1"/>
<text x="164.1" y="312.15555555555557" font-size="7.3" fill="#333333" text-anchor="end">40</text>
<line x1="167.7" y1="298.25" x2="170.5" y2="298.25" stroke="#333" stroke-width="1"/>
<text x="164.1" y="300.85" font-size="7.3" fill="#333333" text-anchor="end">45</text>
<line x1="170.5" y1="400" x2="170.5" y2="402.5" stroke="#333" stroke-width="1"/>
<text x="170.5" y="413.2" font-size="7.3" fill="#333333" text-anchor="middle">0</text>
<line x1="185.06" y1="400" x2="185.06" y2="402.5" stroke="#333" stroke-width="1"/>
<text x="185.06" y="413.2" font-size="7.3" fill="#333333" text-anchor="middle">20</text>
<line x1="199.62" y1="400" x2="199.62" y2="402.5" stroke="#333" stroke-width="1"/>
<text x="199.62" y="413.2" font-size="7.3" fill="#333333" text-anchor="middle">40</text>
<line x1="214.18" y1="400" x2="214.18" y2="402.5" stroke="#333" stroke-width="1"/>
<text x="214.18" y="413.2" font-size="7.3" fill="#333333" text-anchor="middle">60</text>
<line x1="228.74" y1="400" x2="228.74" y2="402.5" stroke="#333" stroke-width="1"/>
<text x="228.74" y="413.2" font-size="7.3" fill="#333333" text-anchor="middle">80</text>
<line x1="243.3" y1="400" x2="243.3" y2="402.5" stroke="#333" stroke-width="1"/>
<text x="243.3" y="413.2" font-size="7.3" fill="#333333" text-anchor="middle">100</text>
<text transform="translate(149.7,347.5) rotate(-90)" font-size="8.3" fill="#333333" text-anchor="middle" textLength="33.3" lengthAdjust="spacingAndGlyphs">Frequency</text>
<text x="193" y="425.6" font-size="7.9" fill="#333333" textLength="31.5" lengthAdjust="spacingAndGlyphs">DTI (days)</text>
<line x1="294.5" y1="295.5" x2="294.5" y2="400.5" stroke="#333" stroke-width="1.2"/>
<rect x="294.80" y="391.46" width="2.6" height="8.54" fill="#135e2e"/>
<rect x="299.94" y="348.75" width="2.6" height="51.25" fill="#135e2e"/>
<rect x="305.08" y="382.92" width="2.6" height="17.08" fill="#135e2e"/>
<rect x="310.22" y="331.67" width="2.6" height="68.33" fill="#135e2e"/>
<rect x="315.36" y="297.50" width="2.6" height="102.50" fill="#135e2e"/>
<rect x="320.50" y="331.67" width="2.6" height="68.33" fill="#135e2e"/>
<rect x="325.64" y="306.04" width="2.6" height="93.96" fill="#135e2e"/>
<rect x="330.78" y="374.38" width="2.6" height="25.62" fill="#135e2e"/>
<rect x="335.92" y="348.75" width="2.6" height="51.25" fill="#135e2e"/>
<rect x="341.06" y="382.92" width="2.6" height="17.08" fill="#135e2e"/>
<rect x="346.20" y="391.46" width="2.6" height="8.54" fill="#135e2e"/>
<rect x="351.34" y="391.46" width="2.6" height="8.54" fill="#135e2e"/>
<rect x="356.48" y="391.46" width="2.6" height="8.54" fill="#135e2e"/>
<line x1="293.9" y1="400" x2="371.7" y2="400" stroke="#333" stroke-width="1.2"/>
<line x1="291.7" y1="400.0" x2="294.5" y2="400.0" stroke="#333" stroke-width="1"/>
<text x="288.1" y="402.6" font-size="7.3" fill="#333333" text-anchor="end">0</text>
<line x1="291.7" y1="374.375" x2="294.5" y2="374.375" stroke="#333" stroke-width="1"/>
<text x="288.1" y="376.975" font-size="7.3" fill="#333333" text-anchor="end">3</text>
<line x1="291.7" y1="348.75" x2="294.5" y2="348.75" stroke="#333" stroke-width="1"/>
<text x="288.1" y="351.35" font-size="7.3" fill="#333333" text-anchor="end">6</text>
<line x1="291.7" y1="323.125" x2="294.5" y2="323.125" stroke="#333" stroke-width="1"/>
<text x="288.1" y="325.725" font-size="7.3" fill="#333333" text-anchor="end">9</text>
<line x1="291.7" y1="297.5" x2="294.5" y2="297.5" stroke="#333" stroke-width="1"/>
<text x="288.1" y="300.1" font-size="7.3" fill="#333333" text-anchor="end">12</text>
<line x1="294.5" y1="400" x2="294.5" y2="402.5" stroke="#333" stroke-width="1"/>
<text x="294.5" y="413.2" font-size="7.3" fill="#333333" text-anchor="middle">0</text>
<line x1="309.34" y1="400" x2="309.34" y2="402.5" stroke="#333" stroke-width="1"/>
<text x="309.34" y="413.2" font-size="7.3" fill="#333333" text-anchor="middle">20</text>
<line x1="324.18" y1="400" x2="324.18" y2="402.5" stroke="#333" stroke-width="1"/>
<text x="324.18" y="413.2" font-size="7.3" fill="#333333" text-anchor="middle">40</text>
<line x1="339.02" y1="400" x2="339.02" y2="402.5" stroke="#333" stroke-width="1"/>
<text x="339.02" y="413.2" font-size="7.3" fill="#333333" text-anchor="middle">60</text>
<line x1="353.86" y1="400" x2="353.86" y2="402.5" stroke="#333" stroke-width="1"/>
<text x="353.86" y="413.2" font-size="7.3" fill="#333333" text-anchor="middle">80</text>
<line x1="368.7" y1="400" x2="368.7" y2="402.5" stroke="#333" stroke-width="1"/>
<text x="368.7" y="413.2" font-size="7.3" fill="#333333" text-anchor="middle">100</text>
<text transform="translate(273.6,347.5) rotate(-90)" font-size="8.3" fill="#333333" text-anchor="middle" textLength="33.3" lengthAdjust="spacingAndGlyphs">Frequency</text>
<text x="317" y="425.6" font-size="7.9" fill="#333333" textLength="31.7" lengthAdjust="spacingAndGlyphs">DTI (days)</text>
<line x1="430.8" y1="296.8" x2="430.8" y2="400.5" stroke="#333" stroke-width="1.2"/>
<rect x="430.90" y="383.13" width="2.5" height="16.87" fill="#1a96c6"/>
<rect x="435.91" y="322.41" width="2.5" height="77.59" fill="#1a96c6"/>
<rect x="440.92" y="308.92" width="2.5" height="91.08" fill="#1a96c6"/>
<rect x="445.93" y="302.17" width="2.5" height="97.83" fill="#1a96c6"/>
<rect x="450.94" y="298.80" width="2.5" height="101.20" fill="#1a96c6"/>
<rect x="455.95" y="298.80" width="2.5" height="101.20" fill="#1a96c6"/>
<rect x="460.96" y="298.80" width="2.5" height="101.20" fill="#1a96c6"/>
<rect x="465.97" y="335.91" width="2.5" height="64.09" fill="#1a96c6"/>
<rect x="470.98" y="386.51" width="2.5" height="13.49" fill="#1a96c6"/>
<rect x="475.99" y="389.88" width="2.5" height="10.12" fill="#1a96c6"/>
<rect x="481.00" y="389.88" width="2.5" height="10.12" fill="#1a96c6"/>
<rect x="486.01" y="386.51" width="2.5" height="13.49" fill="#1a96c6"/>
<rect x="496.03" y="393.25" width="2.5" height="6.75" fill="#1a96c6"/>
<rect x="501.04" y="393.25" width="2.5" height="6.75" fill="#1a96c6"/>
<line x1="430.2" y1="400" x2="505.6" y2="400" stroke="#333" stroke-width="1.2"/>
<line x1="428.0" y1="400.0" x2="430.8" y2="400.0" stroke="#333" stroke-width="1"/>
<text x="424.40000000000003" y="402.6" font-size="7.3" fill="#333333" text-anchor="end">0</text>
<line x1="428.0" y1="383.1333333333333" x2="430.8" y2="383.1333333333333" stroke="#333" stroke-width="1"/>
<text x="424.40000000000003" y="385.73333333333335" font-size="7.3" fill="#333333" text-anchor="end">5</text>
<line x1="428.0" y1="366.26666666666665" x2="430.8" y2="366.26666666666665" stroke="#333" stroke-width="1"/>
<text x="424.40000000000003" y="368.8666666666667" font-size="7.3" fill="#333333" text-anchor="end">10</text>
<line x1="428.0" y1="349.4" x2="430.8" y2="349.4" stroke="#333" stroke-width="1"/>
<text x="424.40000000000003" y="352.0" font-size="7.3" fill="#333333" text-anchor="end">15</text>
<line x1="428.0" y1="332.5333333333333" x2="430.8" y2="332.5333333333333" stroke="#333" stroke-width="1"/>
<text x="424.40000000000003" y="335.1333333333333" font-size="7.3" fill="#333333" text-anchor="end">20</text>
<line x1="428.0" y1="315.66666666666663" x2="430.8" y2="315.66666666666663" stroke="#333" stroke-width="1"/>
<text x="424.40000000000003" y="318.26666666666665" font-size="7.3" fill="#333333" text-anchor="end">25</text>
<line x1="428.0" y1="298.8" x2="430.8" y2="298.8" stroke="#333" stroke-width="1"/>
<text x="424.40000000000003" y="301.40000000000003" font-size="7.3" fill="#333333" text-anchor="end">30</text>
<line x1="430.8" y1="400" x2="430.8" y2="402.5" stroke="#333" stroke-width="1"/>
<text x="430.8" y="413.2" font-size="7.3" fill="#333333" text-anchor="middle">0</text>
<line x1="445.16" y1="400" x2="445.16" y2="402.5" stroke="#333" stroke-width="1"/>
<text x="445.16" y="413.2" font-size="7.3" fill="#333333" text-anchor="middle">20</text>
<line x1="459.52" y1="400" x2="459.52" y2="402.5" stroke="#333" stroke-width="1"/>
<text x="459.52" y="413.2" font-size="7.3" fill="#333333" text-anchor="middle">40</text>
<line x1="473.88" y1="400" x2="473.88" y2="402.5" stroke="#333" stroke-width="1"/>
<text x="473.88" y="413.2" font-size="7.3" fill="#333333" text-anchor="middle">60</text>
<line x1="488.24" y1="400" x2="488.24" y2="402.5" stroke="#333" stroke-width="1"/>
<text x="488.24" y="413.2" font-size="7.3" fill="#333333" text-anchor="middle">80</text>
<line x1="502.6" y1="400" x2="502.6" y2="402.5" stroke="#333" stroke-width="1"/>
<text x="502.6" y="413.2" font-size="7.3" fill="#333333" text-anchor="middle">100</text>
<text transform="translate(409.9,347.5) rotate(-90)" font-size="8.3" fill="#333333" text-anchor="middle" textLength="33.3" lengthAdjust="spacingAndGlyphs">Frequency</text>
<text x="453" y="425.6" font-size="7.9" fill="#333333" textLength="31.5" lengthAdjust="spacingAndGlyphs">DTI (days)</text>
<text x="55.2" y="286.8" font-size="13.4" fill="#cf2a35" textLength="35.6" lengthAdjust="spacingAndGlyphs">DZsig</text>
<text x="91.2" y="283.4" font-size="13.4" fill="#cf2a35" textLength="22" lengthAdjust="spacingAndGlyphs">pos</text>
<text x="198.7" y="286.7" font-size="9" fill="#e9952c" textLength="19.3" lengthAdjust="spacingAndGlyphs">GCB</text>
<text x="323" y="286.7" font-size="9" fill="#1e6b3a" textLength="20" lengthAdjust="spacingAndGlyphs">UNC</text>
<text x="459.5" y="286.7" font-size="9" fill="#2aa6d6" textLength="18.5" lengthAdjust="spacingAndGlyphs">ABC</text>
<text x="33.7" y="442.8" font-size="9" fill="#333333" textLength="101" lengthAdjust="spacingAndGlyphs">Median (IQR): 25 (14-38)</text>
<text x="157.5" y="442.8" font-size="9" fill="#333333" textLength="102" lengthAdjust="spacingAndGlyphs">Median (IQR): 30 (16-43)</text>
<text x="282" y="442.8" font-size="9" fill="#333333" textLength="102.2" lengthAdjust="spacingAndGlyphs">Median (IQR): 33 (27-44)</text>
<text x="418" y="442.8" font-size="9" fill="#333333" textLength="102" lengthAdjust="spacingAndGlyphs">Median (IQR): 28 (16-41)</text>
<line x1="56.8" y1="522" x2="56.8" y2="607.7" stroke="#333" stroke-width="1.3"/>
<line x1="56.199999999999996" y1="607.2" x2="220" y2="607.2" stroke="#333" stroke-width="1.3"/>
<line x1="57.0" y1="607.2" x2="57.0" y2="610.2" stroke="#333" stroke-width="1"/>
<line x1="137.75" y1="607.2" x2="137.75" y2="610.2" stroke="#333" stroke-width="1"/>
<line x1="218.5" y1="607.2" x2="218.5" y2="610.2" stroke="#333" stroke-width="1"/>
<line x1="65.075" y1="607.2" x2="65.075" y2="608.8000000000001" stroke="#333" stroke-width="0.7"/>
<line x1="73.14999999999999" y1="607.2" x2="73.14999999999999" y2="608.8000000000001" stroke="#333" stroke-width="0.7"/>
<line x1="81.22500000000001" y1="607.2" x2="81.22500000000001" y2="608.8000000000001" stroke="#333" stroke-width="0.7"/>
<line x1="89.29999999999998" y1="607.2" x2="89.29999999999998" y2="608.8000000000001" stroke="#333" stroke-width="0.7"/>
<line x1="97.375" y1="607.2" x2="97.375" y2="608.8000000000001" stroke="#333" stroke-width="0.7"/>
<line x1="105.45000000000002" y1="607.2" x2="105.45000000000002" y2="608.8000000000001" stroke="#333" stroke-width="0.7"/>
<line x1="113.525" y1="607.2" x2="113.525" y2="608.8000000000001" stroke="#333" stroke-width="0.7"/>
<line x1="121.60000000000001" y1="607.2" x2="121.60000000000001" y2="608.8000000000001" stroke="#333" stroke-width="0.7"/>
<line x1="129.675" y1="607.2" x2="129.675" y2="608.8000000000001" stroke="#333" stroke-width="0.7"/>
<line x1="137.75" y1="607.2" x2="137.75" y2="608.8000000000001" stroke="#333" stroke-width="0.7"/>
<line x1="145.825" y1="607.2" x2="145.825" y2="608.8000000000001" stroke="#333" stroke-width="0.7"/>
<line x1="153.90000000000003" y1="607.2" x2="153.90000000000003" y2="608.8000000000001" stroke="#333" stroke-width="0.7"/>
<line x1="161.97499999999997" y1="607.2" x2="161.97499999999997" y2="608.8000000000001" stroke="#333" stroke-width="0.7"/>
<line x1="170.05" y1="607.2" x2="170.05" y2="608.8000000000001" stroke="#333" stroke-width="0.7"/>
<line x1="178.125" y1="607.2" x2="178.125" y2="608.8000000000001" stroke="#333" stroke-width="0.7"/>
<line x1="186.20000000000002" y1="607.2" x2="186.20000000000002" y2="608.8000000000001" stroke="#333" stroke-width="0.7"/>
<line x1="194.275" y1="607.2" x2="194.275" y2="608.8000000000001" stroke="#333" stroke-width="0.7"/>
<line x1="202.35" y1="607.2" x2="202.35" y2="608.8000000000001" stroke="#333" stroke-width="0.7"/>
<line x1="210.42500000000004" y1="607.2" x2="210.42500000000004" y2="608.8000000000001" stroke="#333" stroke-width="0.7"/>
<text x="57.1" y="620" font-size="7.4" fill="#333333" text-anchor="middle" textLength="10.4" lengthAdjust="spacingAndGlyphs">0.5</text>
<text x="137.5" y="620" font-size="7.4" fill="#333333" text-anchor="middle" textLength="10.4" lengthAdjust="spacingAndGlyphs">1.0</text>
<text x="217" y="620" font-size="7.4" fill="#333333" text-anchor="middle" textLength="10.4" lengthAdjust="spacingAndGlyphs">1.5</text>
<text x="85" y="633.5" font-size="8.2" fill="#333333" textLength="107.7" lengthAdjust="spacingAndGlyphs">Expected DTI ratio relative to GCB</text>
<line x1="137" y1="520" x2="137" y2="607.2" stroke="#111" stroke-width="1.5" stroke-dasharray="1.6,1.6"/>
<line x1="54.3" y1="538.6" x2="56.8" y2="538.6" stroke="#333" stroke-width="1"/>
<line x1="79.6" y1="538.6" x2="125.7" y2="538.6" stroke="#333" stroke-width="1.2"/>
<line x1="79.6" y1="536.3000000000001" x2="79.6" y2="540.9" stroke="#333" stroke-width="1.3"/>
<line x1="125.7" y1="536.3000000000001" x2="125.7" y2="540.9" stroke="#333" stroke-width="1.3"/>
<circle cx="100.3" cy="538.6" r="1.9" fill="#8a88bc" stroke="#6a6890" stroke-width="0.4"/>
<text x="50.2" y="541.0" font-size="7.3" fill="#333333" text-anchor="end">DZsig<tspan font-size="5.3" dy="-2.6">pos</tspan></text>
<line x1="54.3" y1="564.5" x2="56.8" y2="564.5" stroke="#333" stroke-width="1"/>
<line x1="108.3" y1="564.5" x2="167" y2="564.5" stroke="#333" stroke-width="1.2"/>
<line x1="108.3" y1="562.2" x2="108.3" y2="566.8" stroke="#333" stroke-width="1.3"/>
<line x1="167" y1="562.2" x2="167" y2="566.8" stroke="#333" stroke-width="1.3"/>
<circle cx="134.8" cy="564.5" r="1.9" fill="#8a88bc" stroke="#6a6890" stroke-width="0.4"/>
<text x="50.2" y="566.9" font-size="7.3" fill="#333333" text-anchor="end">UNC</text>
<line x1="54.3" y1="590.4" x2="56.8" y2="590.4" stroke="#333" stroke-width="1"/>
<line x1="97.5" y1="590.4" x2="131.4" y2="590.4" stroke="#333" stroke-width="1.2"/>
<line x1="97.5" y1="588.1" x2="97.5" y2="592.6999999999999" stroke="#333" stroke-width="1.3"/>
<line x1="131.4" y1="588.1" x2="131.4" y2="592.6999999999999" stroke="#333" stroke-width="1.3"/>
<circle cx="113.2" cy="590.4" r="1.9" fill="#8a88bc" stroke="#6a6890" stroke-width="0.4"/>
<text x="50.2" y="592.8" font-size="7.3" fill="#333333" text-anchor="end">ABC</text>
<text x="180.5" y="531.4" font-size="7.3" fill="#333333"><tspan font-style="italic">P</tspan>-value</text>
<text x="182.3" y="542.9" font-size="7.3" fill="#333333">&lt; .01</text>
<text x="189.4" y="566.9" font-size="7.3" fill="#333333">.89</text>
<text x="189.4" y="591.8" font-size="7.3" fill="#333333">.02</text>
<line x1="298.0" y1="511.30000000000007" x2="298.0" y2="620.7" stroke="#333" stroke-width="1.2"/>
<rect x="298.00" y="602.38" width="2.7" height="17.82" fill="#b3143c"/>
<rect x="300.70" y="566.75" width="2.7" height="53.45" fill="#b3143c"/>
<rect x="307.80" y="531.12" width="2.7" height="89.08" fill="#b3143c"/>
<rect x="311.70" y="602.38" width="2.7" height="17.82" fill="#b3143c"/>
<rect x="315.50" y="602.38" width="2.7" height="17.82" fill="#b3143c"/>
<rect x="319.30" y="584.57" width="2.7" height="35.63" fill="#b3143c"/>
<rect x="323.10" y="531.12" width="2.7" height="89.08" fill="#b3143c"/>
<rect x="326.90" y="566.75" width="2.7" height="53.45" fill="#b3143c"/>
<rect x="330.80" y="602.38" width="2.7" height="17.82" fill="#b3143c"/>
<rect x="334.60" y="602.38" width="2.7" height="17.82" fill="#b3143c"/>
<rect x="338.40" y="584.57" width="2.7" height="35.63" fill="#b3143c"/>
<line x1="297.4" y1="620.2" x2="362" y2="620.2" stroke="#333" stroke-width="1.2"/>
<line x1="295.2" y1="620.2" x2="298.0" y2="620.2" stroke="#333" stroke-width="1"/>
<text x="291.6" y="622.8000000000001" font-size="7.3" fill="#333333" text-anchor="end">0</text>
<line x1="295.2" y1="602.3833333333333" x2="298.0" y2="602.3833333333333" stroke="#333" stroke-width="1"/>
<text x="291.6" y="604.9833333333333" font-size="7.3" fill="#333333" text-anchor="end">1</text>
<line x1="295.2" y1="584.5666666666667" x2="298.0" y2="584.5666666666667" stroke="#333" stroke-width="1"/>
<text x="291.6" y="587.1666666666667" font-size="7.3" fill="#333333" text-anchor="end">2</text>
<line x1="295.2" y1="566.75" x2="298.0" y2="566.75" stroke="#333" stroke-width="1"/>
<text x="291.6" y="569.35" font-size="7.3" fill="#333333" text-anchor="end">3</text>
<line x1="295.2" y1="548.9333333333334" x2="298.0" y2="548.9333333333334" stroke="#333" stroke-width="1"/>
<text x="291.6" y="551.5333333333334" font-size="7.3" fill="#333333" text-anchor="end">4</text>
<line x1="295.2" y1="531.1166666666667" x2="298.0" y2="531.1166666666667" stroke="#333" stroke-width="1"/>
<text x="291.6" y="533.7166666666667" font-size="7.3" fill="#333333" text-anchor="end">5</text>
<line x1="295.2" y1="513.3000000000001" x2="298.0" y2="513.3000000000001" stroke="#333" stroke-width="1"/>
<text x="291.6" y="515.9000000000001" font-size="7.3" fill="#333333" text-anchor="end">6</text>
<line x1="298.0" y1="620.2" x2="298.0" y2="622.7" stroke="#333" stroke-width="1"/>
<text x="298.0" y="633.1" font-size="7.3" fill="#333333" text-anchor="middle">0</text>
<line x1="313.35" y1="620.2" x2="313.35" y2="622.7" stroke="#333" stroke-width="1"/>
<text x="313.35" y="633.1" font-size="7.3" fill="#333333" text-anchor="middle">20</text>
<line x1="328.7" y1="620.2" x2="328.7" y2="622.7" stroke="#333" stroke-width="1"/>
<text x="328.7" y="633.1" font-size="7.3" fill="#333333" text-anchor="middle">40</text>
<line x1="344.05" y1="620.2" x2="344.05" y2="622.7" stroke="#333" stroke-width="1"/>
<text x="344.05" y="633.1" font-size="7.3" fill="#333333" text-anchor="middle">60</text>
<line x1="359.4" y1="620.2" x2="359.4" y2="622.7" stroke="#333" stroke-width="1"/>
<text x="359.4" y="633.1" font-size="7.3" fill="#333333" text-anchor="middle">80</text>
<text transform="translate(281.8,564.8) rotate(-90)" font-size="8.3" fill="#333333" text-anchor="middle" textLength="33.3" lengthAdjust="spacingAndGlyphs">Frequency</text>
<text x="314.8" y="646.2" font-size="8.5" fill="#333333" textLength="31.2" lengthAdjust="spacingAndGlyphs">DTI (days)</text>
<text x="293.4" y="493.8" font-size="9.4" fill="#b3143c" textLength="73" lengthAdjust="spacingAndGlyphs">HGBCL-DH-<tspan font-style="italic">BCL2</tspan></text>
<text x="312.8" y="504.6" font-size="9" fill="#b3143c" textLength="23.3" lengthAdjust="spacingAndGlyphs">DZsig</text>
<text x="336.4" y="500.9" font-size="6.6" fill="#b3143c" textLength="10.6" lengthAdjust="spacingAndGlyphs">pos</text>
<line x1="407.7" y1="513.6" x2="407.7" y2="621.7" stroke="#333" stroke-width="1.2"/>
<rect x="410.00" y="594.80" width="2.7" height="26.40" fill="#36a636"/>
<rect x="413.80" y="528.80" width="2.7" height="92.40" fill="#36a636"/>
<rect x="417.70" y="515.60" width="2.7" height="105.60" fill="#36a636"/>
<rect x="421.50" y="594.80" width="2.7" height="26.40" fill="#36a636"/>
<rect x="425.30" y="581.60" width="2.7" height="39.60" fill="#36a636"/>
<rect x="429.10" y="542.00" width="2.7" height="79.20" fill="#36a636"/>
<rect x="432.90" y="594.80" width="2.7" height="26.40" fill="#36a636"/>
<rect x="436.70" y="594.80" width="2.7" height="26.40" fill="#36a636"/>
<rect x="440.50" y="608.00" width="2.7" height="13.20" fill="#36a636"/>
<rect x="444.30" y="581.60" width="2.7" height="39.60" fill="#36a636"/>
<rect x="448.10" y="608.00" width="2.7" height="13.20" fill="#36a636"/>
<line x1="407.09999999999997" y1="621.2" x2="471.2" y2="621.2" stroke="#333" stroke-width="1.2"/>
<line x1="404.9" y1="621.2" x2="407.7" y2="621.2" stroke="#333" stroke-width="1"/>
<text x="401.3" y="623.8000000000001" font-size="7.3" fill="#333333" text-anchor="end">0</text>
<line x1="404.9" y1="608.0" x2="407.7" y2="608.0" stroke="#333" stroke-width="1"/>
<text x="401.3" y="610.6" font-size="7.3" fill="#333333" text-anchor="end">1</text>
<line x1="404.9" y1="594.8000000000001" x2="407.7" y2="594.8000000000001" stroke="#333" stroke-width="1"/>
<text x="401.3" y="597.4000000000001" font-size="7.3" fill="#333333" text-anchor="end">2</text>
<line x1="404.9" y1="581.6" x2="407.7" y2="581.6" stroke="#333" stroke-width="1"/>
<text x="401.3" y="584.2" font-size="7.3" fill="#333333" text-anchor="end">3</text>
<line x1="404.9" y1="568.4000000000001" x2="407.7" y2="568.4000000000001" stroke="#333" stroke-width="1"/>
<text x="401.3" y="571.0000000000001" font-size="7.3" fill="#333333" text-anchor="end">4</text>
<line x1="404.9" y1="555.2" x2="407.7" y2="555.2" stroke="#333" stroke-width="1"/>
<text x="401.3" y="557.8000000000001" font-size="7.3" fill="#333333" text-anchor="end">5</text>
<line x1="404.9" y1="542.0" x2="407.7" y2="542.0" stroke="#333" stroke-width="1"/>
<text x="401.3" y="544.6" font-size="7.3" fill="#333333" text-anchor="end">6</text>
<line x1="404.9" y1="528.8000000000001" x2="407.7" y2="528.8000000000001" stroke="#333" stroke-width="1"/>
<text x="401.3" y="531.4000000000001" font-size="7.3" fill="#333333" text-anchor="end">7</text>
<line x1="404.9" y1="515.6" x2="407.7" y2="515.6" stroke="#333" stroke-width="1"/>
<text x="401.3" y="518.2" font-size="7.3" fill="#333333" text-anchor="end">8</text>
<line x1="407.7" y1="621.2" x2="407.7" y2="623.7" stroke="#333" stroke-width="1"/>
<text x="407.7" y="634.6" font-size="7.3" fill="#333333" text-anchor="middle">0</text>
<line x1="422.84" y1="621.2" x2="422.84" y2="623.7" stroke="#333" stroke-width="1"/>
<text x="422.84" y="634.6" font-size="7.3" fill="#333333" text-anchor="middle">20</text>
<line x1="437.98" y1="621.2" x2="437.98" y2="623.7" stroke="#333" stroke-width="1"/>
<text x="437.98" y="634.6" font-size="7.3" fill="#333333" text-anchor="middle">40</text>
<line x1="453.12" y1="621.2" x2="453.12" y2="623.7" stroke="#333" stroke-width="1"/>
<text x="453.12" y="634.6" font-size="7.3" fill="#333333" text-anchor="middle">60</text>
<line x1="468.26" y1="621.2" x2="468.26" y2="623.7" stroke="#333" stroke-width="1"/>
<text x="468.26" y="634.6" font-size="7.3" fill="#333333" text-anchor="middle">80</text>
<text transform="translate(392,566) rotate(-90)" font-size="8.3" fill="#333333" text-anchor="middle" textLength="33.3" lengthAdjust="spacingAndGlyphs">Frequency</text>
<text x="424.2" y="646.9" font-size="8.5" fill="#333333" textLength="30.8" lengthAdjust="spacingAndGlyphs">DTI (days)</text>
<text x="425.3" y="495.2" font-size="9.4" fill="#36a636" textLength="29.3" lengthAdjust="spacingAndGlyphs">DLBCL</text>
<text x="421" y="506.6" font-size="9" fill="#36a636" textLength="23.8" lengthAdjust="spacingAndGlyphs">DZsig</text>
<text x="445" y="502.9" font-size="6.6" fill="#36a636" textLength="12" lengthAdjust="spacingAndGlyphs">pos</text>
</svg>
</body></html>
